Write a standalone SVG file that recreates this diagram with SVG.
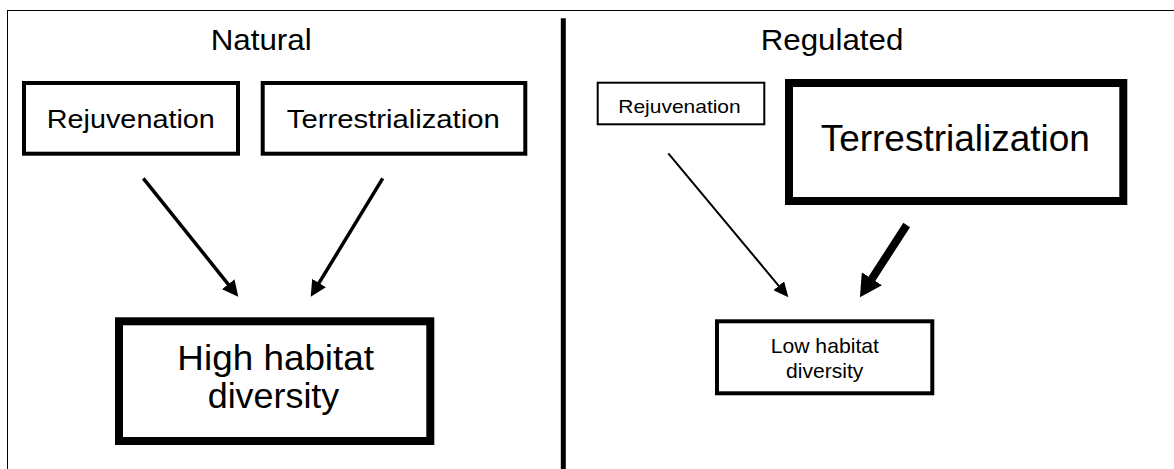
<svg xmlns="http://www.w3.org/2000/svg" width="1174" height="469" viewBox="0 0 1174 469">
<style>
.box{fill:#fff;stroke:#000}
.t{font-family:"Liberation Sans",Arial,sans-serif;fill:#000;text-anchor:middle}
.conn{fill:none;stroke:#000;stroke-linecap:butt}
</style>
<defs>
<marker id="mArrowM" markerUnits="userSpaceOnUse" markerWidth="16" markerHeight="16" viewBox="0 0 16 16" refX="2" refY="8" orient="auto"><path d="M0,0 L16,8 L0,16 z" fill="#000"/></marker>
<marker id="mArrowS" markerUnits="userSpaceOnUse" markerWidth="15" markerHeight="14" viewBox="0 0 15 14" refX="2" refY="7" orient="auto"><path d="M0,0 L15,7 L0,14 z" fill="#000"/></marker>
<marker id="mArrowL" markerUnits="userSpaceOnUse" markerWidth="22" markerHeight="24" viewBox="0 0 22 24" refX="2" refY="12" orient="auto"><path d="M0,0 L22,12 L0,24 z" fill="#000"/></marker>
</defs>
<rect width="1174" height="469" fill="#fff"/>
<rect x="7.5" y="10.5" width="1200" height="500" fill="none" stroke="#000" stroke-width="1"/>
<line x1="563.3" y1="18.3" x2="563.3" y2="469" stroke="#000" stroke-width="5"/>
<g id="title-natural"><text class="t" x="261.2" y="50" font-size="30" textLength="101" lengthAdjust="spacingAndGlyphs">Natural</text></g>
<g id="title-regulated"><text class="t" x="832" y="50" font-size="30" textLength="142.7" lengthAdjust="spacingAndGlyphs">Regulated</text></g>
<g id="nat-rejuvenation">
<rect class="box" x="24" y="83" width="214" height="70.7" stroke-width="4"/>
<text class="t" x="130.8" y="128.3" font-size="26" textLength="168" lengthAdjust="spacingAndGlyphs">Rejuvenation</text>
</g>
<g id="nat-terrestrialization">
<rect class="box" x="262.7" y="83" width="262.6" height="70.7" stroke-width="4"/>
<text class="t" x="393.3" y="128.3" font-size="26" textLength="213" lengthAdjust="spacingAndGlyphs">Terrestrialization</text>
</g>
<g id="nat-high">
<rect class="box" x="119" y="321.3" width="311.3" height="119.7" stroke-width="8"/>
<text class="t" x="275.7" y="370" font-size="35" textLength="196.7" lengthAdjust="spacingAndGlyphs">High habitat</text>
<text class="t" x="273.5" y="408" font-size="35" textLength="131.6" lengthAdjust="spacingAndGlyphs">diversity</text>
</g>
<g id="reg-rejuvenation">
<rect class="box" x="597.7" y="82.7" width="166.6" height="41.6" stroke-width="2"/>
<text class="t" x="679.5" y="112.7" font-size="19" textLength="122.4" lengthAdjust="spacingAndGlyphs">Rejuvenation</text>
</g>
<g id="reg-terrestrialization">
<rect class="box" x="789" y="83" width="334.3" height="118" stroke-width="8"/>
<text class="t" x="955.3" y="150.5" font-size="36" textLength="269.3" lengthAdjust="spacingAndGlyphs">Terrestrialization</text>
</g>
<g id="reg-low">
<rect class="box" x="717" y="321.3" width="215.3" height="72" stroke-width="4"/>
<text class="t" x="824.8" y="353.3" font-size="21" textLength="108.3" lengthAdjust="spacingAndGlyphs">Low habitat</text>
<text class="t" x="824.7" y="377.7" font-size="21" textLength="77.3" lengthAdjust="spacingAndGlyphs">diversity</text>
</g>
<g id="connectors">
<path class="conn" d="M143.3,178.3 L229.5,285.8" stroke-width="3.5" marker-end="url(#mArrowM)"/>
<path class="conn" d="M382.7,178.3 L318,284.7" stroke-width="3.5" marker-end="url(#mArrowM)"/>
<path class="conn" d="M668.3,153.3 L780,287.3" stroke-width="2" marker-end="url(#mArrowS)"/>
<path class="conn" d="M906.7,225 L870.8,280.5" stroke-width="8" marker-end="url(#mArrowL)"/>
</g>
</svg>
